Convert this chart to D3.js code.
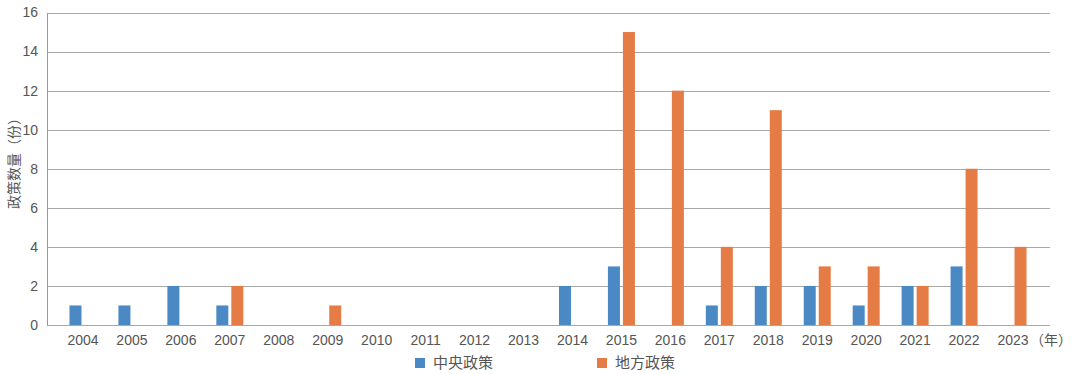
<!DOCTYPE html>
<html>
<head>
<meta charset="utf-8">
<script src="https://cdn.jsdelivr.net/npm/d3@7"></script>
<style>
  body { margin: 0; background: #fff; }
  svg { display: block; font-family: "Liberation Sans", "Noto Sans CJK SC", sans-serif; }
</style>
</head>
<body>
<svg id="chart" width="1080" height="374"></svg>
<script>
"use strict";

// chart data
const years = ["2004","2005","2006","2007","2008","2009","2010","2011","2012","2013",
               "2014","2015","2016","2017","2018","2019","2020","2021","2022","2023"];
const central = [1,1,2,1,0,0,0,0,0,0,2,3,0,1,2,2,1,2,3,0];
const local   = [0,0,0,2,0,1,0,0,0,0,0,15,12,4,11,3,3,2,8,4];
const yTicks = [0,2,4,6,8,10,12,14,16];
const seriesNames = ["中央政策", "地方政策"];
const seriesColors = ["#4a89c4", "#e57c45"];

const svg = d3.select("#chart");
const plot = { left: 47, right: 1050, top: 12.5, bottom: 325 };

const x = d3.scaleBand().domain(years).range([58.5, 1037.5]).padding(0);
const y = d3.scaleLinear().domain([0, 16]).range([plot.bottom, plot.top]);

// grid lines
svg.append("g")
  .selectAll("line")
  .data(yTicks)
  .enter()
  .append("line")
  .attr("x1", plot.left).attr("x2", plot.right)
  .attr("y1", d => Math.round(y(d)) + 0.5)
  .attr("y2", d => Math.round(y(d)) + 0.5)
  .attr("stroke", "#a8a8a8")
  .attr("stroke-width", 1);

// left axis line
svg.append("line")
  .attr("x1", plot.left + 0.5).attr("x2", plot.left + 0.5)
  .attr("y1", Math.round(y(16)) + 0.5).attr("y2", Math.round(y(0)) + 0.5)
  .attr("stroke", "#999");

// y tick labels
svg.append("g")
  .attr("transform", "translate(" + (plot.left - 9) + ",0)")
  .selectAll("text")
  .data(yTicks)
  .enter()
  .append("text")
  .attr("y", d => y(d))
  .attr("dy", "0.35em")
  .attr("text-anchor", "end")
  .attr("font-size", 14)
  .attr("fill", "#555")
  .text(d => d);

// y title
svg.append("text")
  .attr("transform", "translate(19,160) rotate(-90)")
  .attr("text-anchor", "middle")
  .attr("font-size", 14)
  .attr("fill", "#555")
  .text("政策数量（份）");

// x labels
svg.append("g")
  .selectAll("text")
  .data(years)
  .enter()
  .append("text")
  .attr("x", d => x(d) + x.bandwidth() / 2)
  .attr("y", 345)
  .attr("text-anchor", "middle")
  .attr("font-size", 14)
  .attr("fill", "#555")
  .text(d => d);

svg.append("text")
  .attr("x", x("2023") + x.bandwidth() / 2 + 17)
  .attr("y", 345)
  .attr("font-size", 14)
  .attr("fill", "#555")
  .text("（年）");

// bars
const barW = 12, gap = 3;
[central, local].forEach((vals, s) => {
  svg.append("g")
    .selectAll("rect")
    .data(vals.map((v, i) => ({ year: years[i], value: v })).filter(d => d.value > 0))
    .enter()
    .append("rect")
    .attr("x", d => x(d.year) + x.bandwidth() / 2 + (s === 0 ? -(barW + gap / 2) : gap / 2))
    .attr("y", d => y(d.value))
    .attr("width", barW)
    .attr("height", d => y(0) - y(d.value))
    .attr("fill", seriesColors[s]);
});

// legend
const legendX = [415, 597];
const legend = svg.append("g")
  .selectAll("g")
  .data(seriesNames)
  .enter()
  .append("g")
  .attr("transform", (d, i) => "translate(" + legendX[i] + ",358)");
legend.append("rect")
  .attr("width", 10).attr("height", 10)
  .attr("fill", (d, i) => seriesColors[i]);
legend.append("text")
  .attr("x", 18).attr("y", 5)
  .attr("dy", "0.35em")
  .attr("font-size", 15)
  .attr("fill", "#555")
  .text(d => d);
</script>
</body>
</html>
